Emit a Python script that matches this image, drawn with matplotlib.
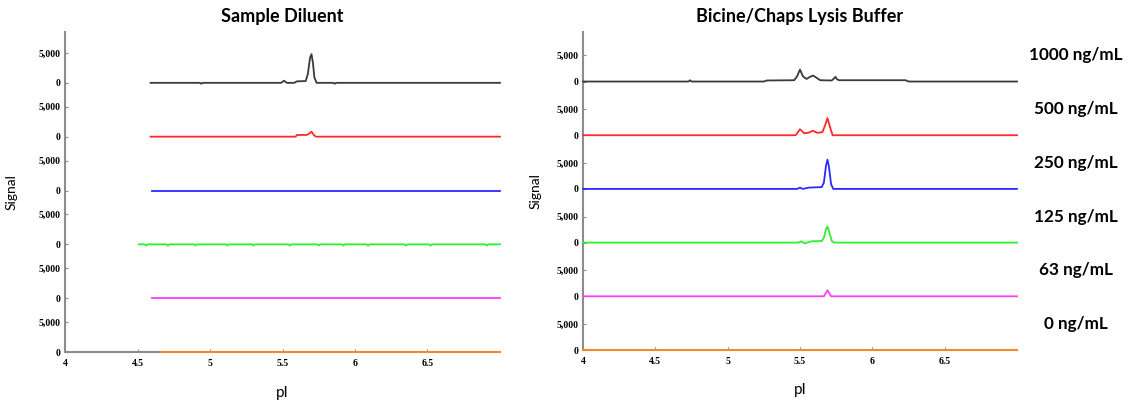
import matplotlib
matplotlib.use('Agg')
import matplotlib.pyplot as plt
import matplotlib.transforms as mtransforms

# Concentration labels, top lane to bottom lane.
conc_labels = ['1000 ng/mL', '500 ng/mL', '250 ng/mL', '125 ng/mL', '63 ng/mL', '0 ng/mL']
lane_colors = ['#3a3a3a', '#ff2a2a', '#2a2aff', '#2ef02e', '#ff3cff', '#ff8a1e']

# Sample Diluent traces (pI, signal).
dil_1000_pi = [4.59, 4.93, 4.94, 4.95, 5.49, 5.51, 5.53, 5.58, 5.60, 5.66, 5.675,
               5.69, 5.70, 5.71, 5.72, 5.735, 5.85, 5.86, 5.87, 7.0]
dil_1000_sig = [0, 0, -150, 0, 0, 350, 0, 0, 250, 300, 1500,
                4200, 4800, 3300, 900, 0, 0, -150, 0, 0]
dil_500_pi = [4.59, 5.59, 5.60, 5.67, 5.685, 5.70, 5.715, 5.73, 7.0]
dil_500_sig = [0, 0, 280, 300, 550, 850, 300, 0, 0]
dil_250_pi = [4.60, 7.0]
dil_250_sig = [0, 0]
dil_125_pi = [4.51, 4.55, 4.56, 4.57, 4.70, 4.71, 4.72, 4.89, 4.90, 4.91, 5.11, 5.12,
              5.13, 5.29, 5.30, 5.31, 5.54, 5.55, 5.56, 5.74, 5.75, 5.76, 5.91, 5.92,
              5.93, 6.08, 6.09, 6.10, 6.34, 6.35, 6.36, 6.51, 6.52, 6.53, 6.90, 6.91,
              6.92, 7.0]
dil_125_sig = [0, 0, -200, 0, 0, -200, 0, 0, -200, 0, 0, -200,
               0, 0, -200, 0, 0, -200, 0, 0, -200, 0, 0, -200,
               0, 0, -200, 0, 0, -200, 0, 0, -200, 0, 0, -200,
               0, 0]
dil_63_pi = [4.60, 7.0]
dil_63_sig = [0, 0]
dil_0_pi = [4.66, 7.0]
dil_0_sig = [0, 0]

# Bicine/Chaps Lysis Buffer traces.
lys_1000_pi = [4.0, 4.73, 4.74, 4.75, 5.25, 5.27, 5.46, 5.48, 5.50, 5.52, 5.545,
               5.57, 5.59, 5.61, 5.64, 5.72, 5.735, 5.745, 5.755, 5.77, 6.23, 6.25, 7.0]
lys_1000_sig = [0, 0, 250, 0, 0, 200, 250, 1000, 2300, 1000, 500,
                900, 1150, 800, 250, 200, 600, 900, 450, 250, 250, 0, 0]
lys_500_pi = [4.0, 5.47, 5.50, 5.53, 5.56, 5.59, 5.62, 5.655, 5.675, 5.69, 5.705, 5.725, 7.0]
lys_500_sig = [0, 0, 1150, 350, 500, 850, 450, 600, 2000, 3300, 1800, 0, 0]
lys_250_pi = [4.0, 5.48, 5.50, 5.52, 5.56, 5.65, 5.665, 5.68, 5.69, 5.70, 5.715, 5.73, 7.0]
lys_250_sig = [0, 0, 250, 0, 250, 350, 1200, 4500, 5600, 4300, 900, 0, 0]
lys_125_pi = [4.0, 5.49, 5.51, 5.53, 5.55, 5.58, 5.65, 5.665, 5.68, 5.69, 5.70, 5.72, 5.735, 7.0]
lys_125_sig = [0, 0, 250, -150, 0, 250, 300, 900, 2600, 3100, 2200, 300, 0, 0]
lys_63_pi = [4.0, 5.665, 5.68, 5.69, 5.70, 5.715, 7.0]
lys_63_sig = [0, 0, 700, 1150, 700, 0, 0]
lys_0_pi = [4.0, 7.0]
lys_0_sig = [0, 0]

dil_traces = [(dil_1000_pi, dil_1000_sig), (dil_500_pi, dil_500_sig),
              (dil_250_pi, dil_250_sig), (dil_125_pi, dil_125_sig),
              (dil_63_pi, dil_63_sig), (dil_0_pi, dil_0_sig)]
lys_traces = [(lys_1000_pi, lys_1000_sig), (lys_500_pi, lys_500_sig),
              (lys_250_pi, lys_250_sig), (lys_125_pi, lys_125_sig),
              (lys_63_pi, lys_63_sig), (lys_0_pi, lys_0_sig)]

x_ticks = [4, 4.5, 5, 5.5, 6, 6.5]
x_tick_labels = ['4', '4.5', '5', '5.5', '6', '6.5']

AXIS_GREY = '#8c8c8c'
TICK_FONT = {'family': 'Liberation Serif', 'weight': 'bold', 'size': 7}


def draw_panel(ax, traces, title, lane_step, y_top, label_x):
    n = len(traces)
    offsets = [(n - 1 - i) * lane_step for i in range(n)]
    for (pi, sig), off, color in zip(traces, offsets, lane_colors):
        ax.plot(pi, [s + off for s in sig], color = color, lw = 1.3,
                solid_joinstyle = 'round', clip_on = False, zorder = 3)

    ax.set_xlim(4, 7.0)
    ax.set_ylim(0, y_top)

    # Each lane gets its own 0 / 5,000 tick pair.
    yt, ytl = [], []
    for off in offsets:
        yt += [off, off + 5000]
        ytl += ['0', '5,000']
    ax.set_yticks(yt)
    ax.set_yticklabels(ytl, fontdict = TICK_FONT)
    ax.set_xticks(x_ticks)
    ax.set_xticklabels(x_tick_labels, fontdict = TICK_FONT)
    ax.tick_params(axis = 'both', direction = 'in', length = 2.5,
                   color = AXIS_GREY, pad = 3)
    ax.tick_params(axis = 'x', pad = 5)

    for side in ['top', 'right']:
        ax.spines[side].set_visible(False)
    for side in ['left', 'bottom']:
        ax.spines[side].set_color(AXIS_GREY)
        ax.spines[side].set_linewidth(1.5)

    ax.set_title(title, fontfamily = 'Lato', fontweight = 'bold',
                 fontsize = 13, pad = 7)
    ax.set_xlabel('pI', fontfamily = 'Lato', fontsize = 11)
    ax.xaxis.set_label_coords(0.5, -0.105)
    ax.set_ylabel('Signal', fontfamily = 'Lato', fontsize = 10)
    ax.yaxis.set_label_coords(label_x, 0.5)
    return offsets


fig = plt.figure(figsize = (11.3, 4.01), dpi = 100)
ax_l = fig.add_axes([65 / 1130, 49 / 401, 435 / 1130, 320 / 401])
ax_r = fig.add_axes([583 / 1130, 51 / 401, 434 / 1130, 318 / 401])

draw_panel(ax_l, dil_traces, 'Sample Diluent', 9000, 53500, -0.11)
r_offsets = draw_panel(ax_r, lys_traces, 'Bicine/Chaps Lysis Buffer', 10300, 61000, -0.095)

# Concentration labels to the right of the lysis buffer panel.
trans = mtransforms.blended_transform_factory(fig.transFigure, ax_r.transData)
for label, off in zip(conc_labels, r_offsets):
    ax_r.text(1076 / 1130, off + 5000, label, transform = trans,
              ha = 'center', va = 'center', fontfamily = 'Lato',
              fontweight = 'bold', fontsize = 12.3)

fig.savefig('out.png', dpi = 100)
